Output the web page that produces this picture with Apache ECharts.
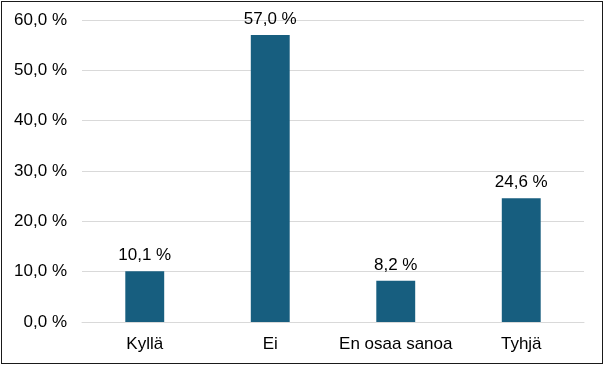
<!DOCTYPE html>
<html><head><meta charset="utf-8">
<script src="https://cdn.jsdelivr.net/npm/echarts@6/dist/echarts.min.js"></script>
<style>
html,body{margin:0;padding:0;background:#fff;}
#frame{position:absolute;left:1px;top:1px;width:600px;height:361px;border:1px solid #1a1a1a;}
#c{position:absolute;left:0;top:0;width:604px;height:365px;}
</style></head>
<body>
<div id="frame"></div>
<div id="c"></div>
<script>
const categories = ["Kyllä", "Ei", "En osaa sanoa", "Tyhjä"];
const values = [10.1, 57.0, 8.2, 24.6];
const yTicks = [0, 10, 20, 30, 40, 50, 60];

const FONT = 'Liberation Sans, Arial, sans-serif';
const FS = 17;
const fmt = v => v.toFixed(1).replace('.', ',') + ' %';
const chart = echarts.init(document.getElementById('c'), null, {renderer: 'canvas'});
chart.setOption({
  animation: false,
  textStyle: {fontFamily: FONT},
  grid: {left: 82, right: 20, top: 20, bottom: 43, containLabel: false},
  xAxis: {
    type: 'category', data: categories,
    axisLine: {show: true, lineStyle: {color: '#d9d9d9', width: 1}},
    axisTick: {show: false},
    axisLabel: {interval: 0, color: '#000', fontSize: FS, margin: 14, fontFamily: FONT}
  },
  yAxis: {
    type: 'value', min: yTicks[0], max: yTicks[yTicks.length - 1], interval: 10,
    axisLine: {show: false}, axisTick: {show: false},
    splitLine: {lineStyle: {color: '#d9d9d9', width: 1}},
    axisLabel: {color: '#000', fontSize: FS, margin: 15, formatter: v => fmt(v), fontFamily: FONT}
  },
  series: [{
    type: 'bar', data: values, barWidth: '31%',
    itemStyle: {color: '#175E7F'},
    label: {show: true, position: 'top', distance: 7, color: '#000', fontSize: FS,
      fontFamily: FONT, formatter: p => fmt(p.value)}
  }]
});
</script>
</body></html>
